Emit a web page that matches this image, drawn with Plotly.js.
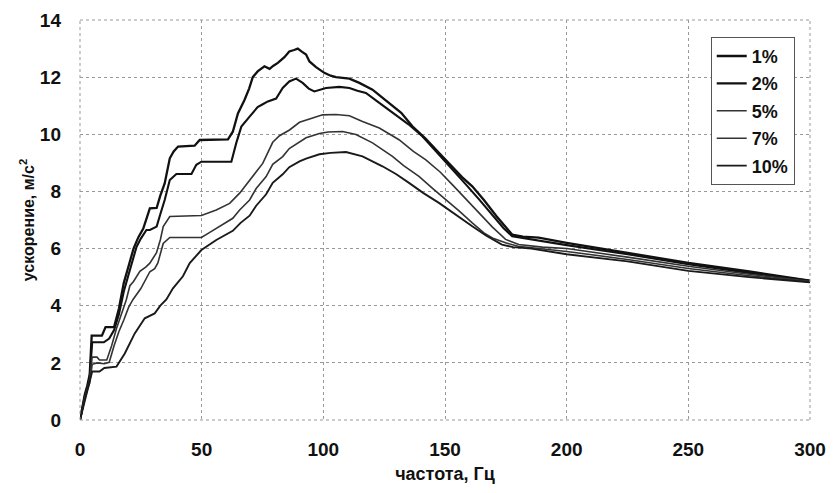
<!DOCTYPE html>
<html>
<head>
<meta charset="utf-8">
<script src="https://cdn.plot.ly/plotly-3.0.1.min.js"></script>
<style>html,body{margin:0;padding:0;background:#fff;}#chart{width:833px;height:493px;}</style>
</head>
<body>
<div id="chart"></div>
<script>
// Damping ratio labels
const seriesNames = ["1%", "2%", "5%", "7%", "10%"];

// [frequency Hz, acceleration m/s^2]
const damp1 = [[0,0],[1,0.5],[2,0.9],[3,1.2],[4,1.6],[4.8,2.95],[9,2.95],[10.5,3.25],[14,3.25],[16,3.9],[18,4.8],[20,5.4],[22,6.0],[24,6.4],[26,6.7],[28.7,7.41],[31.5,7.42],[33,7.85],[34.8,8.28],[36.9,9.16],[38.5,9.4],[40.3,9.57],[47.1,9.6],[49.2,9.8],[60.8,9.82],[62.8,10.09],[64.9,10.73],[67.6,11.2],[69.5,11.6],[71,12.0],[73,12.2],[75.8,12.38],[77.9,12.29],[79.5,12.4],[81.3,12.5],[84,12.7],[86,12.9],[88,12.95],[89.5,13.0],[91,12.9],[92.9,12.79],[94.3,12.55],[97,12.35],[100.4,12.15],[103,12.05],[105.2,12.0],[110.7,11.95],[114.8,11.8],[120.2,11.56],[124,11.3],[127,11.1],[132,10.75],[136.6,10.28],[142,9.85],[147.5,9.35],[152,8.95],[157,8.5],[161.2,8.18],[166,7.7],[171,7.15],[175,6.75],[177.6,6.49],[182,6.42],[188.5,6.38],[200,6.2],[225,5.85],[250,5.5],[275,5.2],[300,4.88]];
const damp2 = [[0,0],[1,0.45],[2,0.85],[3,1.15],[4,1.5],[5,2.72],[9.8,2.72],[12,2.85],[14,3.15],[16,3.7],[18,4.5],[20,5.1],[22,5.7],[23.2,6.05],[25,6.35],[27.3,6.65],[28.7,6.65],[31.5,6.77],[33,7.2],[34.8,7.7],[36.9,8.4],[39.6,8.61],[45.8,8.61],[47.8,8.93],[49.9,9.04],[62.2,9.04],[64.2,9.69],[66.3,10.27],[69.7,10.62],[73,10.95],[75.1,11.05],[77.2,11.15],[80.6,11.25],[83.3,11.62],[86,11.85],[88.8,11.95],[91.5,11.8],[94,11.6],[96.3,11.5],[98.5,11.55],[101.1,11.62],[106.6,11.66],[110.7,11.62],[114,11.52],[117.5,11.45],[123,11.1],[129.8,10.69],[135,10.35],[140.7,9.93],[147,9.35],[153,8.77],[158,8.3],[164,7.72],[170,7.1],[174,6.72],[177.6,6.43],[185,6.32],[200,6.12],[225,5.8],[250,5.45],[275,5.15],[300,4.87]];
const damp5 = [[0,0],[1,0.45],[2,0.8],[3,1.1],[4,1.45],[5,2.2],[7,2.2],[8,2.1],[11,2.1],[13,2.6],[15,3.2],[17,3.7],[19,4.2],[20.5,4.7],[22,4.85],[24.6,5.2],[27,5.35],[28.7,5.49],[31.4,5.85],[33,6.3],[34.2,6.77],[36.9,7.12],[41,7.14],[49.9,7.16],[56,7.35],[61.5,7.58],[65.6,7.94],[69.7,8.4],[72.4,8.7],[75.1,8.98],[79.2,9.72],[82,9.95],[86.1,10.15],[90.2,10.42],[95.6,10.57],[99.7,10.68],[105.2,10.69],[110.7,10.65],[116.1,10.45],[123,10.22],[131.1,9.81],[137,9.4],[142,9.11],[148,8.68],[153,8.24],[158.5,7.75],[164,7.25],[169.5,6.75],[174.9,6.32],[180.3,6.14],[190,6.05],[200,6.0],[225,5.7],[250,5.38],[275,5.1],[300,4.85]];
const damp7 = [[0,0],[1,0.4],[2,0.75],[3,1.05],[4,1.3],[5,1.95],[7,2.0],[10,1.97],[12,2.02],[14,2.6],[16,3.1],[18,3.5],[20,3.95],[21.8,4.22],[25,4.6],[28.7,5.19],[30.7,5.3],[32,5.5],[34.2,6.18],[36.9,6.39],[49.9,6.39],[53,6.55],[56,6.71],[59,6.88],[62.8,7.06],[65.6,7.35],[69.7,7.7],[72.4,8.1],[76.5,8.52],[79.2,8.95],[83.3,9.22],[86,9.5],[90.2,9.74],[92.9,9.88],[98.4,10.03],[102,10.08],[107.9,10.1],[113.4,9.99],[120.2,9.7],[128.4,9.23],[133,8.9],[139.3,8.53],[145,8.1],[150.3,7.72],[156,7.3],[161.2,6.9],[166,6.55],[170,6.35],[174.9,6.2],[180,6.08],[190,5.98],[200,5.9],[225,5.62],[250,5.3],[275,5.05],[300,4.83]];
const damp10 = [[0,0],[1,0.35],[2,0.7],[3,1.0],[4,1.3],[5,1.7],[8,1.7],[10,1.82],[15,1.87],[18.4,2.33],[22.5,3.03],[26.6,3.56],[30.7,3.73],[33,4.0],[35.5,4.22],[38.2,4.61],[42.3,5.03],[45.1,5.49],[49.9,5.95],[56,6.3],[62.8,6.62],[66,6.9],[69.7,7.15],[72.4,7.5],[76.5,7.9],[79.2,8.3],[83.3,8.6],[86,8.85],[90.2,9.05],[92.9,9.15],[98.4,9.3],[103,9.35],[109.3,9.38],[116.1,9.23],[124.3,8.88],[130,8.6],[135.2,8.3],[141,7.95],[147.5,7.6],[154,7.2],[161.2,6.78],[167,6.45],[173.4,6.14],[178,6.05],[185.5,6.0],[200,5.8],[225,5.55],[250,5.22],[275,5.0],[300,4.82]];

const xTicks = [0, 50, 100, 150, 200, 250, 300];
const yTicks = [0, 2, 4, 6, 8, 10, 12, 14];

const allSeries = [damp1, damp2, damp5, damp7, damp10];
const widths = [2.3, 2.1, 1.6, 1.6, 1.9];
const colors = ['#111', '#111', '#333', '#333', '#1a1a1a'];

const traces = allSeries.map((s, i) => ({
  type: 'scatter',
  mode: 'lines',
  name: seriesNames[i],
  legendgroup: 'g' + i,
  x: s.map(p => p[0]),
  y: s.map(p => p[1]),
  line: {color: colors[i], width: widths[i]}
}));

const FAM = 'Liberation Sans, Arial, sans-serif';
const tickFont = {family: FAM, size: 19, color: '#111', weight: 'bold'};

const layout = {
  width: 833, height: 493,
  margin: {l: 80, r: 23, t: 20, b: 73},
  paper_bgcolor: '#fff', plot_bgcolor: '#fff',
  showlegend: true,
  legend: {
    x: 0.864, y: 0.958, xanchor: 'left', yanchor: 'top',
    bgcolor: '#fff', bordercolor: '#555', borderwidth: 1,
    font: {family: FAM, size: 18, color: '#111', weight: 'bold'},
    tracegroupgap: 1, itemwidth: 30
  },
  xaxis: {
    range: [0, 300], tickvals: xTicks, ticktext: xTicks.map(String),
    showgrid: true, gridcolor: '#999', griddash: 'dot', gridwidth: 1,
    zeroline: false, showline: false, ticks: '', ticklabelstandoff: 16,
    tickfont: tickFont,
    title: {text: 'частота, Гц', font: {family: FAM, size: 18, color: '#111', weight: 'bold'}, standoff: 8}
  },
  yaxis: {
    range: [0, 14], tickvals: yTicks, ticktext: yTicks.map(String),
    showgrid: true, gridcolor: '#999', griddash: 'dot', gridwidth: 1,
    zeroline: false, showline: false, ticks: '', ticklabelstandoff: 18,
    tickfont: tickFont,
    title: {text: 'ускорение, м/с<sup>2</sup>', font: {family: FAM, size: 16, color: '#111', weight: 'bold'}, standoff: 1}
  },
  shapes: [
    {type: 'line', xref: 'paper', yref: 'paper', x0: 0, x1: 0, y0: 0, y1: 1, line: {color: '#999', width: 1, dash: 'dot'}},
    {type: 'line', xref: 'paper', yref: 'paper', x0: 1, x1: 1, y0: 0, y1: 1, line: {color: '#999', width: 1, dash: 'dot'}},
    {type: 'line', xref: 'paper', yref: 'paper', x0: 0, x1: 1, y0: 0, y1: 0, line: {color: '#999', width: 1, dash: 'dot'}},
    {type: 'line', xref: 'paper', yref: 'paper', x0: 0, x1: 1, y0: 1, y1: 1, line: {color: '#999', width: 1, dash: 'dot'}}
  ]
};

Plotly.newPlot('chart', traces, layout, {staticPlot: true, displayModeBar: false});
</script>
</body>
</html>
